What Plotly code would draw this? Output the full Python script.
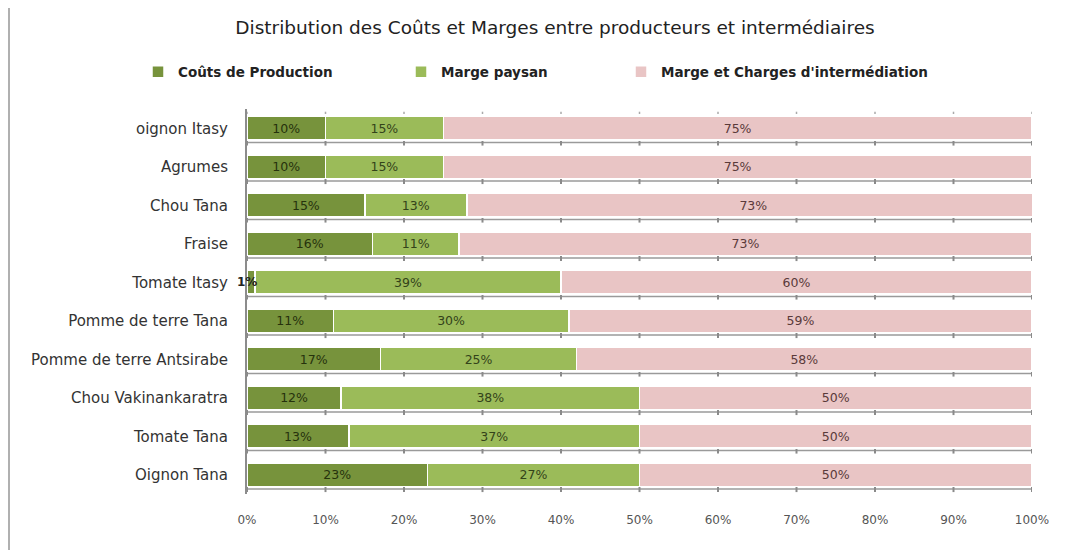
import plotly.graph_objects as go

categories = ["oignon Itasy", "Agrumes", "Chou Tana", "Fraise", "Tomate Itasy",
              "Pomme de terre Tana", "Pomme de terre Antsirabe", "Chou Vakinankaratra",
              "Tomate Tana", "Oignon Tana"]
couts = [10, 10, 15, 16, 1, 11, 17, 12, 13, 23]
marge_paysan = [15, 15, 13, 11, 39, 30, 25, 38, 37, 27]
marge_inter = [75, 75, 73, 73, 60, 59, 58, 50, 50, 50]
x_ticks = [0, 10, 20, 30, 40, 50, 60, 70, 80, 90, 100]
x_ticktext = [f"{v}%" for v in x_ticks]

W, H = 1057, 544
L, R, T, B = 239, 33, 101, 58
PW, PH = W - L - R, H - T - B

series = [
    ("Coûts de Production", couts, "#77933C", "#26320C", 130),
    ("Marge paysan", marge_paysan, "#9BBB59", "#33431A", 393),
    ("Marge et Charges d'intermédiation", marge_inter, "#E9C5C5", "#5A3A3A", 613),
]

FONT = "'DejaVu Sans', Verdana, sans-serif"
fig = go.Figure()
legend_names = ["legend", "legend2", "legend3"]
for k, (name, vals, color, tcolor, lx) in enumerate(series):
    texts = [f"{v}%" if v >= 3 else "" for v in vals]
    fig.add_trace(go.Bar(
        y=categories, x=vals, name=name, orientation="h",
        marker=dict(color=color, line=dict(color="white", width=1.5)),
        text=texts, textposition="inside", insidetextanchor="middle",
        textangle=0, textfont=dict(family=FONT, size=12.5, color=tcolor),
        legend=legend_names[k], hoverinfo="skip",
    ))

# small value label left of tiny bar
for cat, v in zip(categories, couts):
    if v < 3:
        fig.add_annotation(x=0, y=cat, text=f"<b>{v}%</b>", showarrow=False,
                           xanchor="center", font=dict(family=FONT, size=12, color="#222"))

# floor lines under each bar with tick marks (Excel-like)
shapes = []
n = len(categories)
for i in range(n):
    yl = i + 0.37
    shapes.append(dict(type="line", xref="x", yref="y", x0=0, x1=100, y0=yl, y1=yl,
                       line=dict(color="#9A9A9A", width=1.5), layer="below"))
    for t in x_ticks:
        shapes.append(dict(type="line", xref="x", yref="y", x0=t, x1=t,
                           y0=yl - 0.08, y1=yl + 0.08,
                           line=dict(color="#8A8A8A", width=2), layer="below"))
for t in x_ticks:
    shapes.append(dict(type="line", xref="x", yref="y", x0=t, x1=t,
                       y0=-0.43, y1=-0.37, line=dict(color="#AAAAAA", width=1.5), layer="below"))
# outer chart border on the left
bx = (1 - L) / PW
shapes.append(dict(type="line", xref="paper", yref="paper", x0=bx, x1=bx,
                   y0=(H - 542 - B) / PH, y1=(H - 0 - B) / PH,
                   line=dict(color="#B0B0B0", width=2)))

fig.update_layout(
    width=W, height=H,
    margin=dict(l=L, r=R, t=T, b=B, autoexpand=False),
    paper_bgcolor="white", plot_bgcolor="white",
    barmode="stack", bargap=0.4,
    title=dict(text="Distribution des Coûts et Marges entre producteurs et intermédiaires",
               x=547 / W, xanchor="center", xref="container", y=1 - 20 / H, yanchor="middle",
               yref="container", font=dict(family=FONT, size=18.5, color="#222")),
    xaxis=dict(range=[0, 100], tickvals=x_ticks, ticktext=x_ticktext, showgrid=False,
               zeroline=False, showline=False, ticklabelstandoff=17, automargin=False,
               tickangle=0, tickfont=dict(family=FONT, size=12, color="#555")),
    yaxis=dict(type="category", categoryorder="array", categoryarray=categories,
               autorange="reversed", showgrid=False, showline=True, linecolor="#8C8C8C",
               linewidth=2, ticklabelstandoff=14, automargin=False,
               tickfont=dict(family=FONT, size=15, color="#333")),
    shapes=shapes,
    showlegend=True,
)
for k, (name, vals, color, tcolor, lx) in enumerate(series):
    fig.update_layout({legend_names[k]: dict(
        orientation="h", yanchor="middle", y=(H - 64 - B) / PH, xanchor="left",
        x=(lx - L) / PW, font=dict(family=FONT, size=13.5, color="#222", weight="bold"),
        bgcolor="rgba(0,0,0,0)", itemwidth=30)})

fig.write_html("out.html")
